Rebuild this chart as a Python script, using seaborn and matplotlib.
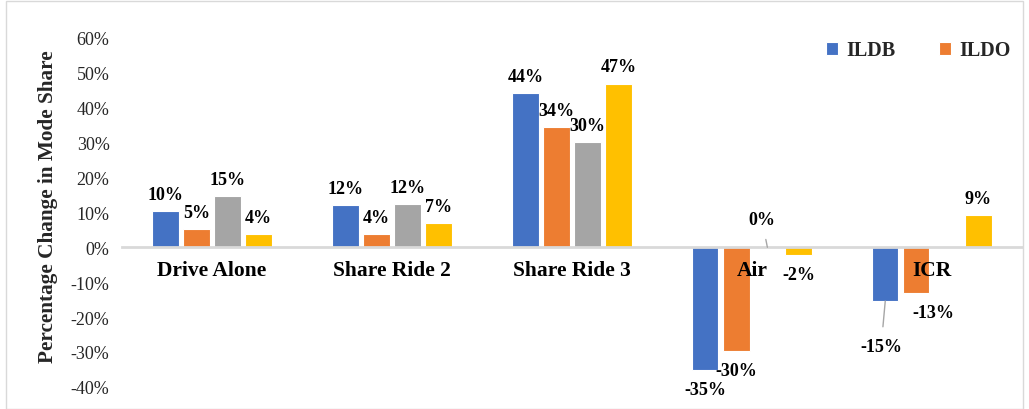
import numpy as np
import pandas as pd
import seaborn as sns
import matplotlib.pyplot as plt
from matplotlib.patches import Rectangle
from matplotlib.ticker import FuncFormatter
from matplotlib.transforms import offset_copy

# Data (percentage change in mode share)
modes = ["Drive Alone", "Share Ride 2", "Share Ride 3", "Air", "ICR"]
series = ["ILDB", "ILDO", "Series 3", "Series 4"]
ildb = [10.4, 12.1, 44.2, -35.3, -15.4]
ildo = [5.2, 3.9, 34.4, -29.8, -13.1]
series3 = [14.7, 12.3, 30.1, 0.0, np.nan]
series4 = [3.8, 7.0, 46.9, -2.3, 9.3]
yticks = list(range(-40, 61, 10))

colors = ["#4472C4", "#ED7D31", "#A5A5A5", "#FFC000"]

df = pd.DataFrame({
    "mode": modes * 4,
    "series": np.repeat(series, len(modes)),
    "change": ildb + ildo + series3 + series4,
}).dropna()

sns.set_theme(style="white")
plt.rcParams["font.family"] = ["Liberation Serif", "DejaVu Serif"]

fig = plt.figure(figsize=(10.29, 4.10), dpi=100)
ax = fig.add_axes([0.1186, 0.054, 0.8744, 0.851])

sns.barplot(data=df, x="mode", y="change", hue="series", order=modes,
            hue_order=series, palette=colors, saturation=1, width=0.69,
            gap=0.15, edgecolor="white", linewidth=0.8, ax=ax)

ax.set_xlim(-0.5, 4.5)
ax.set_ylim(-40, 60)
ax.set_yticks(yticks)
ax.yaxis.set_major_formatter(FuncFormatter(lambda v, p: f"{v:.0f}%"))
ax.tick_params(axis="y", length=0, labelsize=13, labelcolor="#262626", pad=9)
ax.set_xticks(range(len(modes)), [""] * len(modes))
ax.tick_params(axis="x", length=0)

for side in ["left", "right", "top"]:
    ax.spines[side].set_visible(False)
ax.spines["bottom"].set_position(("data", 0))
ax.spines["bottom"].set_color("#D9D9D9")
ax.spines["bottom"].set_linewidth(2)
ax.set_xlabel("")
ax.set_ylabel("")

# category names sit just under the zero line, on top of the bars
cat_tr = offset_copy(ax.transData, fig=fig, x=0, y=-16, units="points")
for i, m in enumerate(modes):
    ax.text(i, 0, m, transform=cat_tr, ha="center", va="center",
            fontsize=15.5, fontweight="bold", color="black", zorder=10)

# data labels; a few are moved (offsets in points) like in the original
special = {
    (3, 2): (-4, 20),
    (4, 0): (-3, -33),
    (4, 1): (12, -14),
}
for j, cont in enumerate(ax.containers):
    for bar in cont:
        h = bar.get_height()
        if np.isnan(h):
            continue
        xc = bar.get_x() + bar.get_width() / 2
        i = int(round(xc))
        if (i, j) in special:
            dx, dy = special[(i, j)]
        else:
            dx, dy = (0, 12) if h >= 0 else (0, -14)
        has_line = (i, j) in [(3, 2), (4, 0)]
        ax.annotate(f"{h:.0f}%", xy=(xc, h), xytext=(dx, dy),
                    textcoords="offset points", ha="center", va="center",
                    fontsize=13, fontweight="bold", color="black", zorder=11,
                    arrowprops=dict(arrowstyle="-", color="#A6A6A6", lw=1,
                                    shrinkA=6, shrinkB=0) if has_line else None)

handles, labels = ax.get_legend_handles_labels()
ax.legend(handles[:2], labels[:2], ncol=2, frameon=False,
          loc="center right", bbox_to_anchor=(1.0, 0.875),
          bbox_transform=fig.transFigure, prop={"weight": "bold", "size": 14.5},
          handlelength=0.6, handleheight=0.6, handletextpad=0.4,
          columnspacing=2.2)

fig.text(0.047, 0.497, "Percentage Change in Mode Share", rotation=90,
         ha="center", va="center", fontsize=15.3, fontweight="bold")

fig.patches.append(Rectangle((0.006, 0.0), 0.988, 0.994, transform=fig.transFigure,
                             fill=False, edgecolor="#D9D9D9", lw=1))

fig.savefig("out.png", dpi=100)
